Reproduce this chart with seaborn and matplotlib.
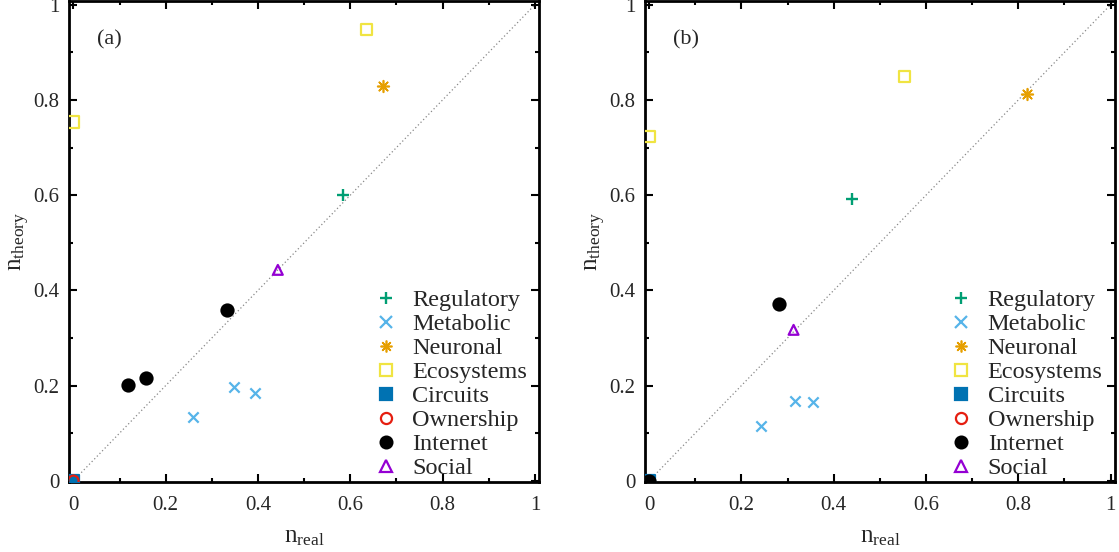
import numpy as np
import pandas as pd
import matplotlib
matplotlib.use("Agg")
import matplotlib.pyplot as plt
from matplotlib.lines import Line2D
from matplotlib.ticker import MultipleLocator
import seaborn as sns

# Categories, with gnuplot-like colours and point types
categories = ['Regulatory', 'Metabolic', 'Neuronal', 'Ecosystems',
              'Circuits', 'Ownership', 'Internet', 'Social']

# Panel (a)
a_kind = ['Regulatory', 'Metabolic', 'Metabolic', 'Metabolic', 'Neuronal',
          'Ecosystems', 'Ecosystems', 'Circuits', 'Ownership',
          'Internet', 'Internet', 'Internet', 'Social']
a_real = [0.585, 0.260, 0.347, 0.394, 0.671,
          0.000, 0.635, 0.000, 0.000,
          0.118, 0.158, 0.332, 0.443]
a_theory = [0.600, 0.134, 0.196, 0.184, 0.829,
            0.754, 0.948, 0.000, 0.000,
            0.202, 0.216, 0.358, 0.443]

# Panel (b)
b_kind = ['Regulatory', 'Metabolic', 'Metabolic', 'Metabolic', 'Neuronal',
          'Ecosystems', 'Ecosystems', 'Circuits', 'Internet', 'Internet',
          'Social']
b_real = [0.440, 0.242, 0.317, 0.355, 0.818,
          0.000, 0.553, 0.000, 0.000, 0.281,
          0.313]
b_theory = [0.591, 0.116, 0.168, 0.166, 0.812,
            0.723, 0.849, 0.000, 0.000, 0.372,
            0.317]

colors = {'Regulatory': '#009E73', 'Metabolic': '#56B4E9', 'Neuronal': '#E69F00',
          'Ecosystems': '#F0E442', 'Circuits': '#0072B2', 'Ownership': '#E51E10',
          'Internet': 'black', 'Social': '#9400D3'}
markers = {'Regulatory': '+', 'Metabolic': 'x', 'Neuronal': (8, 2, 0),
           'Ecosystems': 's', 'Circuits': 's', 'Ownership': 'o',
           'Internet': 'o', 'Social': '^'}
sizes = {'Regulatory': 70, 'Metabolic': 55, 'Neuronal': 70, 'Ecosystems': 70,
         'Circuits': 70, 'Ownership': 55, 'Internet': 75, 'Social': 50}
widths = {'Regulatory': 1.7, 'Metabolic': 1.6, 'Neuronal': 1.2, 'Ecosystems': 1.6,
          'Circuits': 1.6, 'Ownership': 1.6, 'Internet': 1.6, 'Social': 1.6}
hollow = {'Ecosystems', 'Ownership', 'Social'}

sns.set_style("ticks")
plt.rcParams['font.family'] = ['Liberation Serif', 'DejaVu Serif']
plt.rcParams['mathtext.fontset'] = 'custom'
plt.rcParams['mathtext.rm'] = 'Liberation Serif'
plt.rcParams['mathtext.it'] = 'Liberation Serif:italic'

fig = plt.figure(figsize=(11.19, 5.52), dpi=100)
ax_a = fig.add_axes([0.0619, 0.1274, 0.4198, 0.8700])
ax_b = fig.add_axes([0.5764, 0.1274, 0.4198, 0.8700])

panels = [(ax_a, a_kind, a_real, a_theory, '(a)'),
          (ax_b, b_kind, b_real, b_theory, '(b)')]

for ax, kind, real, theory, tag in panels:
    df = pd.DataFrame({'kind': kind, 'real': real, 'theory': theory})
    ax.plot([0, 1], [0, 1], linestyle=(0, (1, 2)), color='#888888', lw=0.9, zorder=1)
    for cat in categories:
        sub = df[df['kind'] == cat]
        if sub.empty:
            continue
        c = colors[cat]
        if cat in hollow:
            sns.scatterplot(data=sub, x='real', y='theory', ax=ax, marker=markers[cat],
                            s=sizes[cat], facecolors='none', edgecolor=c, color=c,
                            linewidth=widths[cat], zorder=3)
        else:
            sns.scatterplot(data=sub, x='real', y='theory', ax=ax, marker=markers[cat],
                            s=sizes[cat], color=c, edgecolor=c, linewidth=widths[cat],
                            zorder=3)

    ax.set_xlim(-0.009, 1.009)
    ax.set_ylim(-0.002, 1.007)
    ax.xaxis.set_major_locator(MultipleLocator(0.2))
    ax.yaxis.set_major_locator(MultipleLocator(0.2))
    ax.xaxis.set_minor_locator(MultipleLocator(0.1))
    ax.yaxis.set_minor_locator(MultipleLocator(0.1))
    ax.xaxis.set_major_formatter(lambda v, p: f'{v:g}')
    ax.yaxis.set_major_formatter(lambda v, p: f'{v:g}')
    ax.tick_params(which='both', direction='in', top=True, right=True, width=1.5,
                   labelsize=15, color='black')
    ax.tick_params(axis='x', which='major', length=6, pad=10)
    ax.tick_params(axis='y', which='major', length=6, pad=7)
    ax.tick_params(which='minor', length=3)
    for sp in ax.spines.values():
        sp.set_linewidth(2.0)
        sp.set_color('black')
    ax.set_xlabel(r'n$_{\mathrm{real}}$', fontsize=18, labelpad=8)
    ax.set_ylabel(r'n$_{\mathrm{theory}}$', fontsize=18, labelpad=1)
    ax.text(0.06, 0.91, tag, transform=ax.transAxes, fontsize=16)

    handles = []
    for cat in categories:
        c = colors[cat]
        ms = 9 if cat == 'Regulatory' else 8.5
        if cat in hollow:
            h = Line2D([], [], linestyle='none', marker=markers[cat], markersize=8,
                       markerfacecolor='none', markeredgecolor=c,
                       markeredgewidth=widths[cat])
        else:
            h = Line2D([], [], linestyle='none', marker=markers[cat], markersize=ms,
                       color=c, markeredgecolor=c, markeredgewidth=widths[cat])
        handles.append(h)
    ax.legend(handles, categories, loc='lower right', frameon=False, fontsize=17.5,
              labelspacing=0.08, handlelength=1.0, handletextpad=0.58,
              borderaxespad=0.1, bbox_to_anchor=(1.0, -0.02))

fig.savefig('out.png', dpi=100)
